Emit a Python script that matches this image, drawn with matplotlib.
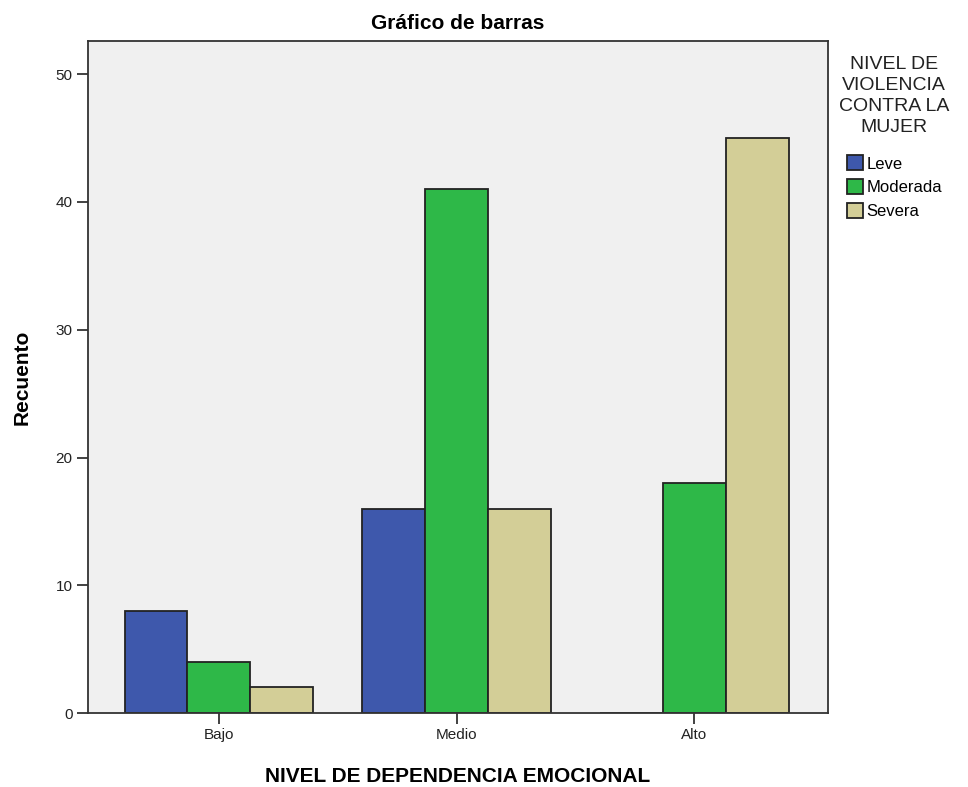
import numpy as np
import matplotlib
matplotlib.use("Agg")
from matplotlib import pyplot as plt
from matplotlib.patches import Patch

plt.rcParams['font.family'] = ['Liberation Sans', 'DejaVu Sans']

categories = ["Bajo", "Medio", "Alto"]
series_names = ["Leve", "Moderada", "Severa"]
leve = [8, 16, 0]
moderada = [4, 41, 18]
severa = [2, 16, 45]
colors = ["#3E58AC", "#2EB848", "#D3CE97"]

fig = plt.figure(figsize=(9.68, 7.87), dpi=100)
ax = fig.add_axes([0.0909, 0.094, 0.764, 0.8539])
ax.set_facecolor("#F0F0F0")

x = np.arange(len(categories))
width = 0.264
for i, (vals, col) in enumerate(zip([leve, moderada, severa], colors)):
    ax.bar(x + (i - 1) * width, vals, width, color=col, edgecolor="#222222",
           linewidth=1.3, zorder=2)

ax.set_xlim(-0.55, 2.56)
ax.set_ylim(0, 52.6)
ax.set_yticks([0, 10, 20, 30, 40, 50])
ax.set_xticks(x)
ax.set_xticklabels(categories)
ax.tick_params(axis="both", labelsize=11, length=8, width=1.3, color="#333333",
               labelcolor="#222222", pad=3)
for s in ax.spines.values():
    s.set_linewidth(1.3)
    s.set_color("#333333")

ax.set_title("Gráfico de barras", fontsize=15, fontweight="bold", pad=9)
ax.set_ylabel("Recuento", fontsize=15, fontweight="bold", labelpad=17)
ax.set_xlabel("NIVEL DE DEPENDENCIA EMOCIONAL", fontsize=15, fontweight="bold",
              labelpad=18)

handles = [Patch(facecolor=c, edgecolor="#222222", linewidth=1.3) for c in colors]
leg = fig.legend(handles, series_names, title="NIVEL DE\nVIOLENCIA\nCONTRA LA\nMUJER",
                 loc="upper left", bbox_to_anchor=(0.86, 0.937), frameon=False,
                 fontsize=12, title_fontsize=14, handlelength=1.0, handleheight=1.0,
                 handletextpad=0.2, labelspacing=0.45, borderaxespad=0)
leg.get_title().set_multialignment("center")
leg.get_title().set_color("#222222")
leg.get_title().set_linespacing(1.3)
leg._legend_box.sep = 14

fig.savefig("out.png", dpi=100)
